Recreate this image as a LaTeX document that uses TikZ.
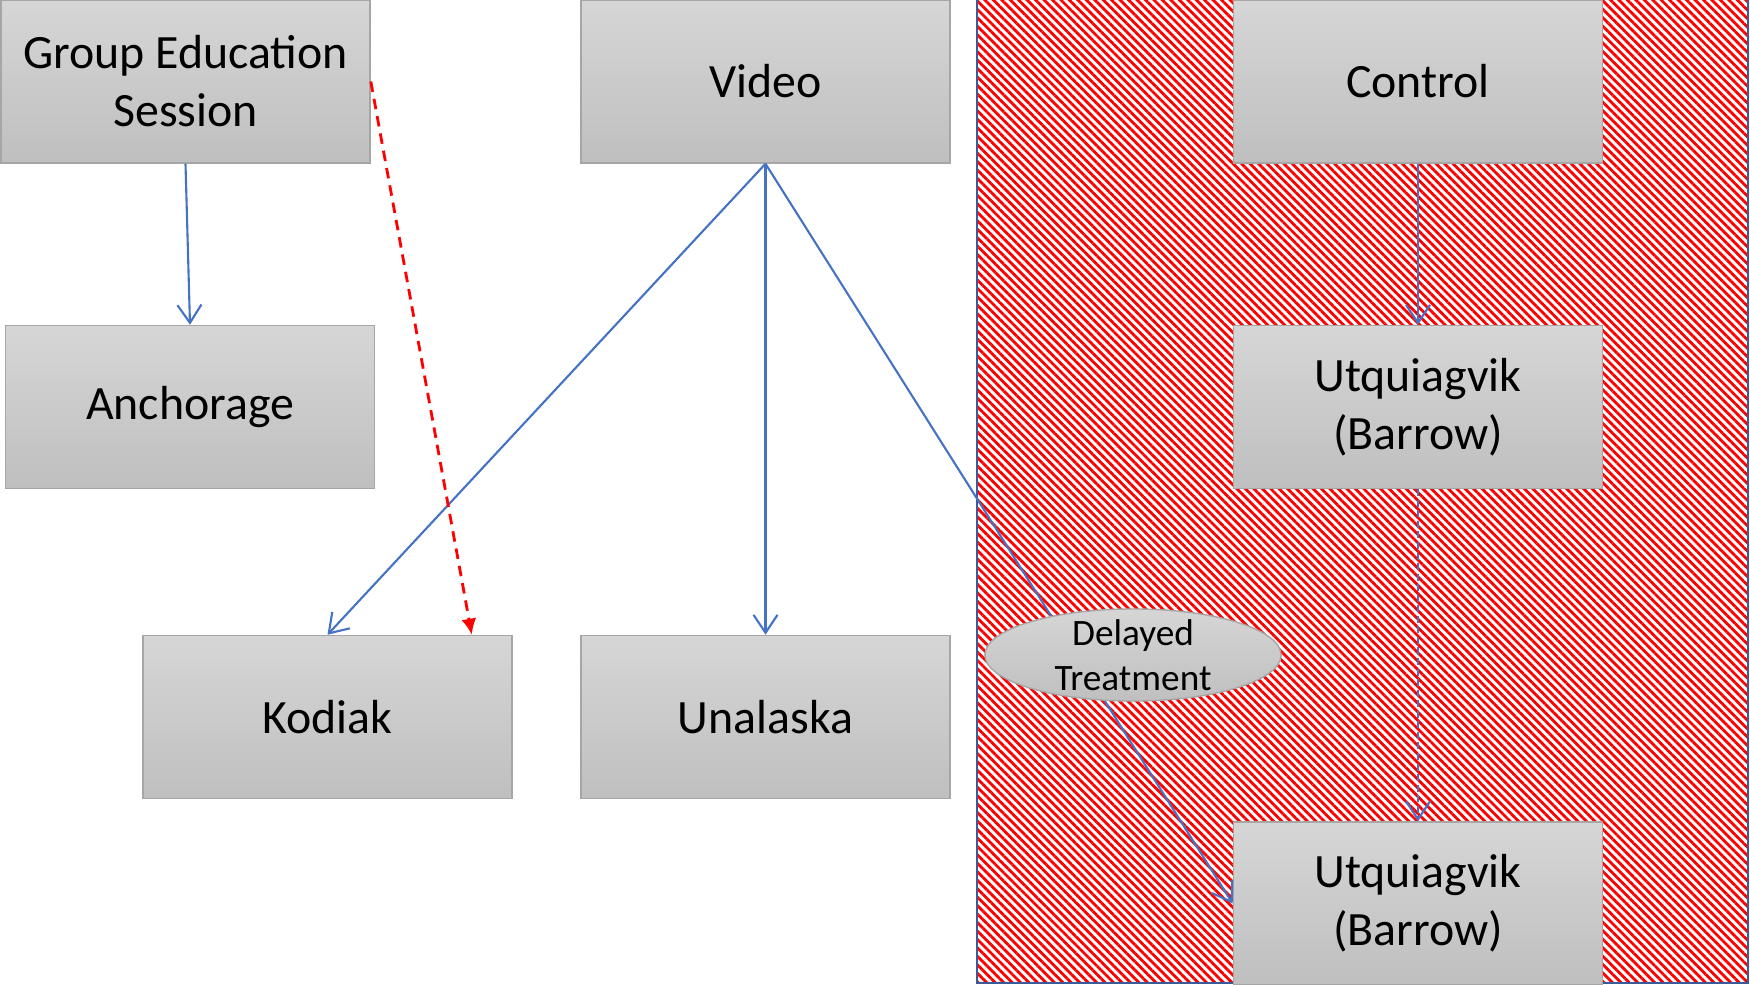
\documentclass[tikz,border=0pt]{standalone}
\usepackage{fontspec}
\setmainfont{Carlito}
\usetikzlibrary{arrows.meta,shapes.geometric,patterns.meta}
\definecolor{linkblue}{HTML}{4472C4}
\definecolor{frameblue}{HTML}{3B5A9A}
\definecolor{boxedge}{HTML}{A6A6A6}
\definecolor{boxtop}{HTML}{D6D6D6}
\definecolor{boxbottom}{HTML}{BFBFBF}

\begin{document}
\begin{tikzpicture}[x=0.01cm, y=-0.01cm,
    box/.style={rectangle, draw=boxedge, top color=boxtop, bottom color=boxbottom,
        minimum width=3.69cm, minimum height=1.63cm, inner sep=0pt, align=center,
        font=\fontsize{13.6}{16.5}\selectfont},
    link/.style={draw=linkblue, line width=0.6pt, -{Straight Barb[length=1.8mm,width=2.4mm]}}]
    \useasboundingbox (0,0) rectangle (1750,985);

    %striped area
    \fill[pattern={Lines[angle=-45,distance=1.7pt,line width=0.8pt]}, pattern color=red] (977,-5) rectangle (1748,983);
    \draw[frameblue, line width=0.8pt] (977,-5) rectangle (1748,983);

    %boxes
    \node[box] (grp) at (185.5,81.5) {Group Education\\Session};
    \node[box] (video) at (765.5,81.5) {Video};
    \node[box] (control) at (1418,81.5) {Control};
    \node[box] (anch) at (190,407) {Anchorage};
    \node[box] (barrowa) at (1418,407) {Utquiagvik\\(Barrow)};
    \node[box] (kodiak) at (327.5,717) {Kodiak};
    \node[box] (unalaska) at (765.5,717) {Unalaska};
    \node[box] (barrowb) at (1418,903.5) {Utquiagvik\\(Barrow)};

    %arrows
    \draw[link] (grp.south) -- (anch.north);
    \draw[link] (video.south) -- (kodiak.north);
    \draw[link] (video.south) -- (unalaska.north);
    \draw[link] (video.south) -- (barrowb.west);
    \draw[link] (control.south) -- (barrowa.north);
    \draw[link, dash pattern=on 2pt off 1pt] (barrowa.south) -- (barrowb.north);
    \draw[red, line width=0.8pt, dash pattern=on 3pt off 2pt, -{Latex[length=1.6mm,width=1.5mm]}]
        (grp.east) -- ([xshift=-0.41cm]kodiak.north east);

    %label on the delayed arm
    \node[ellipse, draw=boxedge, top color=boxtop, bottom color=boxbottom,
        minimum width=2.96cm, minimum height=0.92cm, inner xsep=0pt, inner ysep=-2mm,
        align=center, font=\fontsize{10.6}{12.7}\selectfont] (delay) at (1133,655) {Delayed\\Treatment};
\end{tikzpicture}
\end{document}
